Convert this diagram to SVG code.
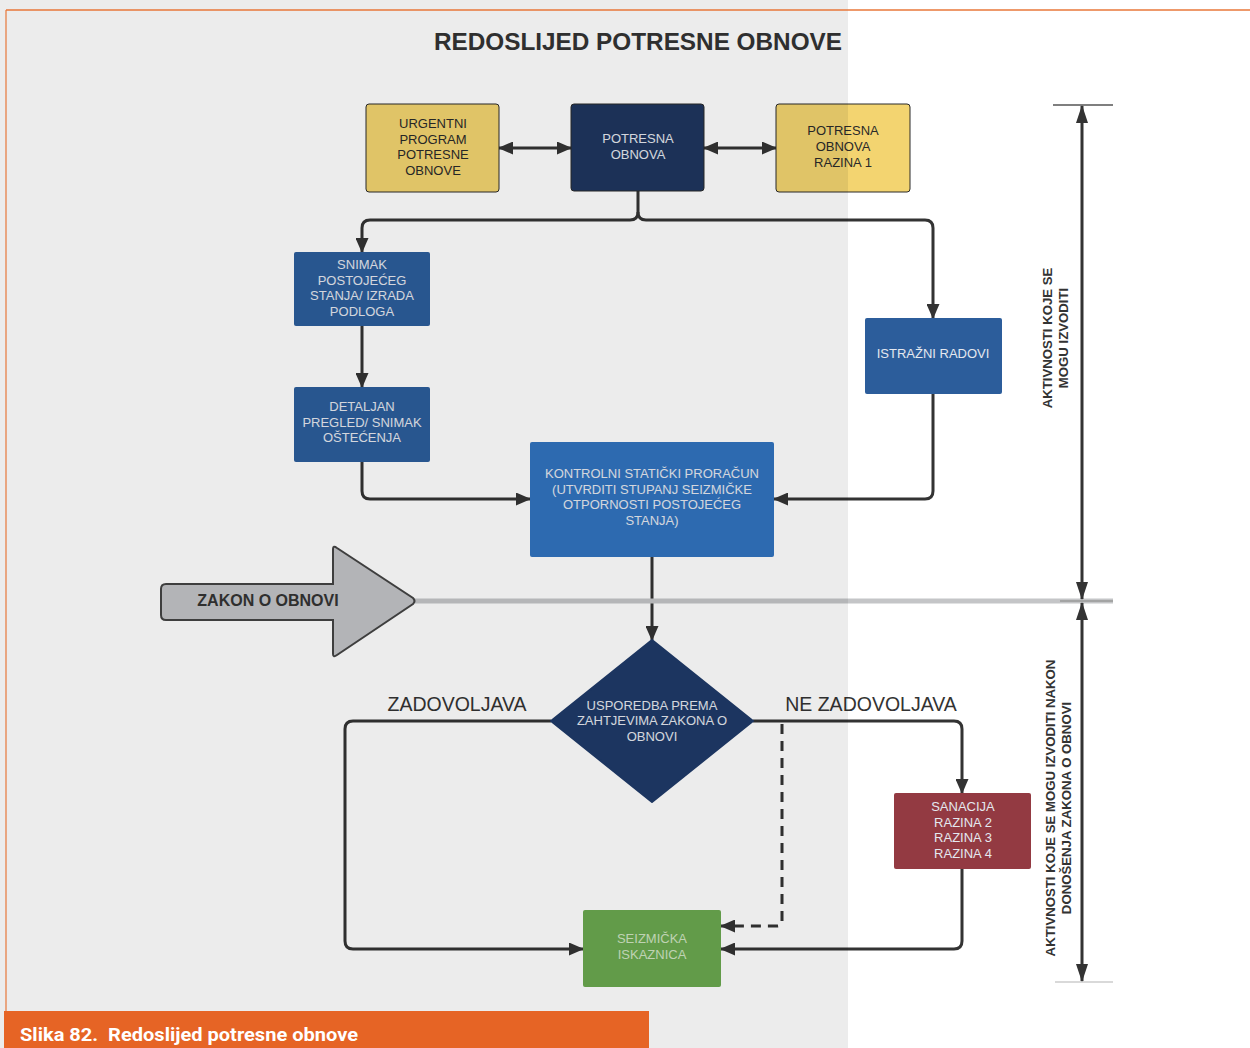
<svg xmlns="http://www.w3.org/2000/svg" width="1250" height="1048" viewBox="0 0 1250 1048">
<style>
.box{stroke:#2a2a2a;stroke-width:1}
.navy{fill:#1f365f}
.blue{fill:#2c5d9b}
.lblue{fill:#3173bf}
.yel{fill:#f3d470}
.wt{font-family:"Liberation Sans",Arial,sans-serif;font-size:13px;fill:#e4e8ef;text-anchor:middle}
.dt{font-family:"Liberation Sans",Arial,sans-serif;font-size:13px;fill:#2a2a2a;text-anchor:middle}
.con{fill:none;stroke:#333;stroke-width:3}
.lbl{font-family:"Liberation Sans",Arial,sans-serif;font-size:19.5px;fill:#333;text-anchor:middle}
.side{font-family:"Liberation Sans",Arial,sans-serif;font-size:13.2px;font-weight:bold;fill:#333;text-anchor:middle}
</style>
<defs>
<marker id="ah" markerWidth="15" markerHeight="13" refX="14" refY="6.5" orient="auto-start-reverse" markerUnits="userSpaceOnUse"><path d="M0,0 L15,6.5 L0,13 z" fill="#333"/></marker>
<marker id="dh" markerWidth="18" markerHeight="12" refX="17" refY="6" orient="auto-start-reverse" markerUnits="userSpaceOnUse"><path d="M0,0 L18,6 L0,12 z" fill="#333"/></marker>
</defs>
<rect x="0" y="0" width="1250" height="1048" fill="#ffffff"/>
<text x="638" y="50" font-family="Liberation Sans,Arial,sans-serif" font-size="24" font-weight="bold" fill="#333" text-anchor="middle" textLength="408" lengthAdjust="spacingAndGlyphs">REDOSLIJED POTRESNE OBNOVE</text>

<g id="connectors">
<path class="con" d="M499,148 H571" marker-start="url(#ah)" marker-end="url(#ah)"/>
<path class="con" d="M704,148 H776" marker-start="url(#ah)" marker-end="url(#ah)"/>
<path class="con" d="M638,191 V212 Q638,220 630,220 H370 Q362,220 362,228 V252" marker-end="url(#ah)"/>
<path class="con" d="M638,212 Q638,220 646,220 H925 Q933,220 933,228 V318" marker-end="url(#ah)"/>
<path class="con" d="M362,326 V387" marker-end="url(#ah)"/>
<path class="con" d="M362,462 V491 Q362,499 370,499 H530" marker-end="url(#ah)"/>
<path class="con" d="M933,394 V491 Q933,499 925,499 H774" marker-end="url(#ah)"/>
<path class="con" d="M652,557 V640" marker-end="url(#ah)"/>
<path class="con" d="M551,721 H353 Q345,721 345,729 V941 Q345,949 353,949 H583" marker-end="url(#ah)"/>
<path class="con" d="M753,721 H954 Q962,721 962,729 V793" marker-end="url(#ah)"/>
<path class="con" d="M782,724 V921 Q782,926 777,926 H721" stroke-dasharray="10,7" marker-end="url(#ah)"/>
<path class="con" d="M962,869 V941 Q962,949 954,949 H721" marker-end="url(#ah)"/>
</g>

<line x1="415" y1="601" x2="1113" y2="601" stroke="#c4c5c7" stroke-width="5"/>

<g id="zakon">
<path d="M166,584 H333 V549 Q333,545 337,548 L413,598 Q416,601 413,604 L337,655 Q333,658 333,654 V620 H166 Q161,620 161,615 V589 Q161,584 166,584 Z" fill="#c2c3c6" stroke="#444" stroke-width="2"/>
<text x="268" y="606" font-family="Liberation Sans,Arial,sans-serif" font-size="16" font-weight="bold" fill="#333" text-anchor="middle">ZAKON O OBNOVI</text>
</g>

<g id="urgentni">
<rect class="box yel" x="366" y="104" width="133" height="88" rx="3"/>
<text class="dt" x="433" y="128">URGENTNI</text>
<text class="dt" x="433" y="144">PROGRAM</text>
<text class="dt" x="433" y="159">POTRESNE</text>
<text class="dt" x="433" y="175">OBNOVE</text>
</g>
<g id="potresna">
<rect class="box navy" x="571" y="104" width="133" height="87" rx="3"/>
<text class="wt" x="638" y="143">POTRESNA</text>
<text class="wt" x="638" y="159">OBNOVA</text>
</g>
<g id="razina1">
<rect class="box yel" x="776" y="104" width="134" height="88" rx="3"/>
<text class="dt" x="843" y="135">POTRESNA</text>
<text class="dt" x="843" y="151">OBNOVA</text>
<text class="dt" x="843" y="167">RAZINA 1</text>
</g>
<g id="snimak">
<rect class="blue" x="294" y="252" width="136" height="74" rx="2"/>
<text class="wt" x="362" y="269">SNIMAK</text>
<text class="wt" x="362" y="285">POSTOJEĆEG</text>
<text class="wt" x="362" y="300">STANJA/ IZRADA</text>
<text class="wt" x="362" y="316">PODLOGA</text>
</g>
<g id="detaljan">
<rect class="blue" x="294" y="387" width="136" height="75" rx="2"/>
<text class="wt" x="362" y="411">DETALJAN</text>
<text class="wt" x="362" y="427">PREGLED/ SNIMAK</text>
<text class="wt" x="362" y="442">OŠTEĆENJA</text>
</g>
<g id="istrazni">
<rect class="blue" x="865" y="318" width="137" height="76" rx="2"/>
<text class="wt" x="933" y="358">ISTRAŽNI RADOVI</text>
</g>
<g id="kontrolni">
<rect class="lblue" x="530" y="442" width="244" height="115" rx="2"/>
<text class="wt" x="652" y="478">KONTROLNI STATIČKI PRORAČUN</text>
<text class="wt" x="652" y="494">(UTVRDITI STUPANJ SEIZMIČKE</text>
<text class="wt" x="652" y="509">OTPORNOSTI POSTOJEĆEG</text>
<text class="wt" x="652" y="525">STANJA)</text>
</g>
<g id="usporedba">
<path d="M652,640 L753,721 L652,802 L551,721 Z" fill="#1f3a68" stroke="#1f3a68" stroke-width="2" stroke-linejoin="round"/>
<text class="wt" x="652" y="710">USPOREDBA PREMA</text>
<text class="wt" x="652" y="725">ZAHTJEVIMA ZAKONA O</text>
<text class="wt" x="652" y="741">OBNOVI</text>
</g>
<text class="lbl" x="457" y="711">ZADOVOLJAVA</text>
<text class="lbl" x="871" y="711">NE ZADOVOLJAVA</text>
<g id="sanacija">
<rect x="894" y="793" width="137" height="76" rx="2" fill="#933a42"/>
<text class="wt" x="963" y="811">SANACIJA</text>
<text class="wt" x="963" y="827">RAZINA 2</text>
<text class="wt" x="963" y="842">RAZINA 3</text>
<text class="wt" x="963" y="858">RAZINA 4</text>
</g>
<g id="seizmicka">
<rect x="583" y="910" width="138" height="77" rx="2" fill="#6aa84f"/>
<text class="wt" x="652" y="943" style="fill:#cfe3c2">SEIZMIČKA</text>
<text class="wt" x="652" y="959" style="fill:#cfe3c2">ISKAZNICA</text>
</g>

<g id="dimension">
<line x1="1053" y1="105" x2="1113" y2="105" stroke="#555" stroke-width="1.5"/>
<line x1="1060" y1="601" x2="1113" y2="601" stroke="#999" stroke-width="1.5"/>
<line x1="1055" y1="982" x2="1113" y2="982" stroke="#ccc" stroke-width="1.5"/>
<path d="M1082,106 V599" fill="none" stroke="#333" stroke-width="3" marker-start="url(#dh)" marker-end="url(#dh)"/>
<path d="M1082,603 V981" fill="none" stroke="#333" stroke-width="3" marker-start="url(#dh)" marker-end="url(#dh)"/>
<text class="side" transform="translate(1052,338) rotate(-90)">AKTIVNOSTI KOJE SE</text>
<text class="side" transform="translate(1068,338) rotate(-90)">MOGU IZVODITI</text>
<text class="side" transform="translate(1055,808) rotate(-90)">AKTIVNOSTI KOJE SE MOGU IZVODITI NAKON</text>
<text class="side" transform="translate(1071,808) rotate(-90)">DONOŠENJA ZAKONA O OBNOVI</text>
</g>

<rect x="0" y="0" width="848" height="1048" fill="#000" opacity="0.075"/>
<line x1="6" y1="10" x2="1250" y2="10" stroke="#e8773a" stroke-width="1.5"/>
<line x1="6" y1="10" x2="6" y2="1012" stroke="#e8773a" stroke-width="1.2"/>
<g id="caption">
<rect x="4" y="1011" width="645" height="37" fill="#e66425"/>
<text x="20" y="1041" font-family="Roboto,Liberation Sans,sans-serif" font-size="19" font-weight="bold" fill="#fff" xml:space="preserve" textLength="338" lengthAdjust="spacingAndGlyphs">Slika 82.  Redoslijed potresne obnove</text>
</g>
</svg>
